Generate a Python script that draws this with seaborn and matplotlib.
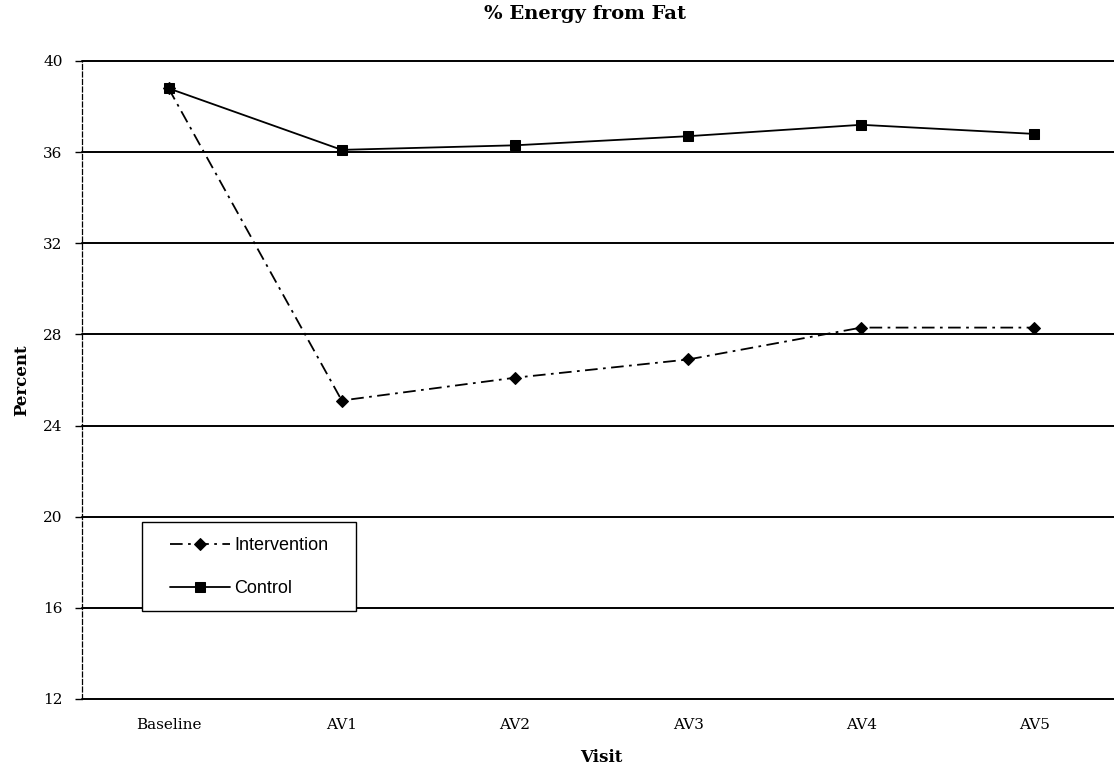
import matplotlib
matplotlib.use("Agg")
import matplotlib.pyplot as plt
from matplotlib.patches import Rectangle
import seaborn as sns
import pandas as pd

visits = ["Baseline", "AV1", "AV2", "AV3", "AV4", "AV5"]
intervention = [38.8, 25.1, 26.1, 26.9, 28.3, 28.3]
control = [38.8, 36.1, 36.3, 36.7, 37.2, 36.8]
y_ticks = [12, 16, 20, 24, 28, 32, 36, 40]

df = pd.DataFrame({
    "Visit": visits * 2,
    "Percent": intervention + control,
    "Group": ["Intervention"] * len(visits) + ["Control"] * len(visits),
})

sns.set_theme(style="white")
plt.rcParams["font.family"] = ["DejaVu Serif", "Liberation Serif"]
plt.rcParams["text.color"] = "black"
plt.rcParams["axes.labelcolor"] = "black"
plt.rcParams["xtick.color"] = "black"
plt.rcParams["ytick.color"] = "black"

W, H = 1114, 773
fig = plt.figure(figsize=(W / 100, H / 100), dpi=100)
ax = fig.add_axes([82 / W, 1 - 699 / H, (1121 - 82) / W, (699 - 61) / H])

sns.lineplot(data=df[df.Group == "Intervention"], x="Visit", y="Percent", ax=ax,
             color="black", marker="D", markersize=6.5, markeredgecolor="black",
             linewidth=1.3, linestyle=(0, (7, 3, 1.5, 3)), label="Intervention", sort=False)
sns.lineplot(data=df[df.Group == "Control"], x="Visit", y="Percent", ax=ax,
             color="black", marker="s", markersize=7, markeredgecolor="black",
             linewidth=1.3, linestyle="-", label="Control", sort=False)

ax.set_xlim(-0.5, 5.5)
ax.set_ylim(12, 40)
ax.set_yticks(y_ticks)
ax.set_yticklabels([str(v) for v in y_ticks], fontsize=11)
ax.set_xticks(range(len(visits)))
ax.set_xticklabels(visits, fontsize=11)
ax.tick_params(axis="x", length=0, pad=14)
ax.tick_params(axis="y", length=5, width=1, color="black", direction="out", pad=9, left=True)
for y in y_ticks:
    ax.axhline(y, color="black", linewidth=1.4, zorder=0.5, clip_on=False)

ax.spines["top"].set_visible(False)
ax.spines["right"].set_visible(False)
ax.spines["bottom"].set_visible(False)
ax.spines["left"].set_linestyle((0, (4, 2)))
ax.spines["left"].set_color("black")
ax.spines["left"].set_linewidth(0.9)

ax.set_xlabel("Visit", fontsize=12, fontweight="bold", labelpad=12)
ax.set_ylabel("Percent", fontsize=12, fontweight="bold", labelpad=9)
fig.text(585 / W, 1 - 14 / H, "% Energy from Fat", ha="center", va="center",
         fontsize=14, fontweight="bold")

frame = Rectangle((142 / W, 1 - 611 / H), (356 - 142) / W, (611 - 522) / H,
                  transform=fig.transFigure, facecolor="white",
                  edgecolor="black", linewidth=1.0, zorder=4)
ax.add_patch(frame)
leg = ax.legend(loc="center left", bbox_to_anchor=(170 / W, 1 - 567 / H),
                bbox_transform=fig.transFigure, borderaxespad=0, borderpad=0,
                frameon=False, prop={"family": "Liberation Sans", "size": 13},
                handlelength=3.3, labelspacing=1.45, handletextpad=0.25)
leg.set_zorder(6)

fig.savefig("out.png", dpi=100, facecolor="white")
